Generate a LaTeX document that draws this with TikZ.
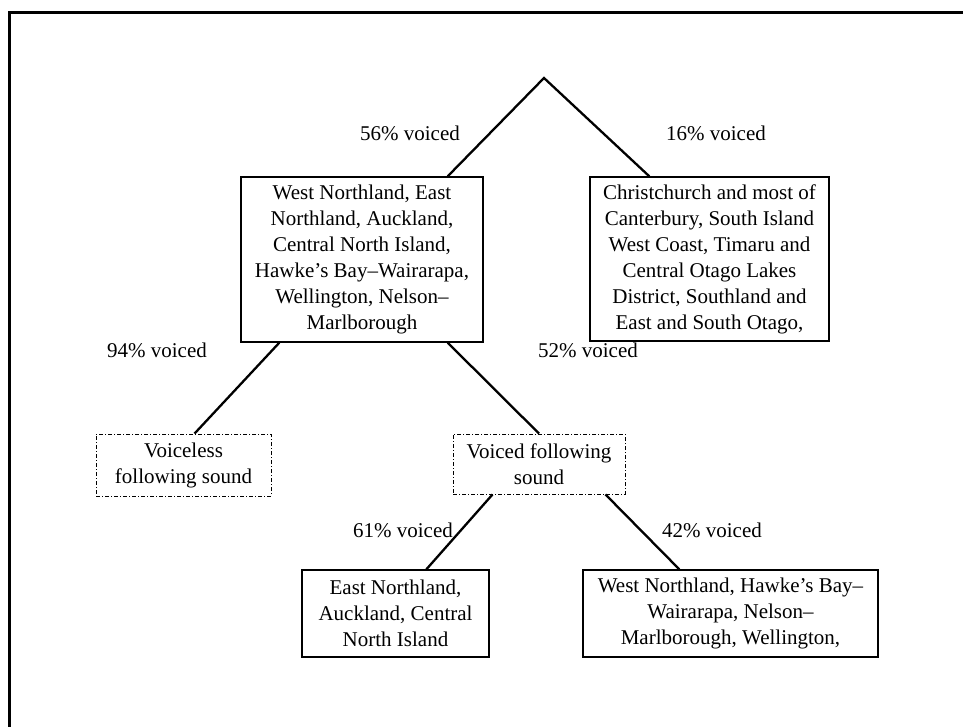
\documentclass[tikz,border=0pt]{standalone}
\usepackage{fontspec}
\setmainfont{Liberation Serif}
\usetikzlibrary{calc}

\tikzset{
  region/.style={draw, line width=1.3pt, inner sep=0pt, align=center,
                 font=\fontsize{21}{26}\selectfont},
  context/.style={draw, line width=0.9pt, inner sep=0pt, align=center,
                  dash pattern=on 4pt off 2pt on 1pt off 2pt,
                  font=\fontsize{21}{26}\selectfont},
  branch/.style={line width=2.3pt},
  share/.style={inner sep=0pt, font=\fontsize{21}{26}\selectfont},
}

\begin{document}
\begin{tikzpicture}[x=1pt, y=-1pt]
  \useasboundingbox (0,0) rectangle (963,727);

  % frame (top and left edges only)
  \draw[line width=3pt] (9,727) -- (9,13) -- (963,13);

  % root of the tree
  \coordinate (root) at (544,78);

  % first split
  \node[region, minimum width=242pt, minimum height=165pt] (north) at (362,259.5)
    {West Northland, East\\Northland, Auckland,\\Central North Island,\\Hawke’s Bay–Wairarapa,\\Wellington, Nelson–\\Marlborough};
  \node[region, minimum width=239pt, minimum height=164pt] (south) at (709.5,259)
    {Christchurch and most of\\Canterbury, South Island\\West Coast, Timaru and\\Central Otago Lakes\\District, Southland and\\East and South Otago,};

  % following-sound split
  \node[context, minimum width=175pt, minimum height=62pt] (vless) at (183.5,465)
    {Voiceless\\following sound};
  \node[context, minimum width=172pt, minimum height=60pt] (vced) at (539,464)
    {Voiced following\\sound};

  % last split
  \node[region, minimum width=187pt, minimum height=87pt] (eastn) at (395.5,613.5)
    {East Northland,\\Auckland, Central\\North Island};
  \node[region, minimum width=295pt, minimum height=87pt] (westn) at (730.5,613.5)
    {West Northland, Hawke’s Bay–\\Wairarapa, Nelson–\\Marlborough, Wellington,};

  % branches
  \draw[branch] ($(north.north east)+(-36,0)$) -- (root) -- ($(south.north west)+(60,0)$);
  \draw[branch] ($(north.south west)+(39,0)$) -- ($(vless.north west)+(99,0)$);
  \draw[branch] ($(north.south east)+(-36,0)$) -- (vced.north);
  \draw[branch] ($(vced.south west)+(40,0)$) -- ($(eastn.north west)+(125,0)$);
  \draw[branch] ($(vced.south east)+(-20,0)$) -- ($(westn.north west)+(97,0)$);

  % branch percentages
  \node[share] (p56) at (410,133) {56\% voiced};
  \node[share] (p16) at (716,133) {16\% voiced};
  \node[share] (p94) at (157,350) {94\% voiced};
  \node[share] (p52) at (588,350) {52\% voiced};
  \node[share] (p61) at (403,530) {61\% voiced};
  \node[share] (p42) at (712,530) {42\% voiced};
\end{tikzpicture}
\end{document}
